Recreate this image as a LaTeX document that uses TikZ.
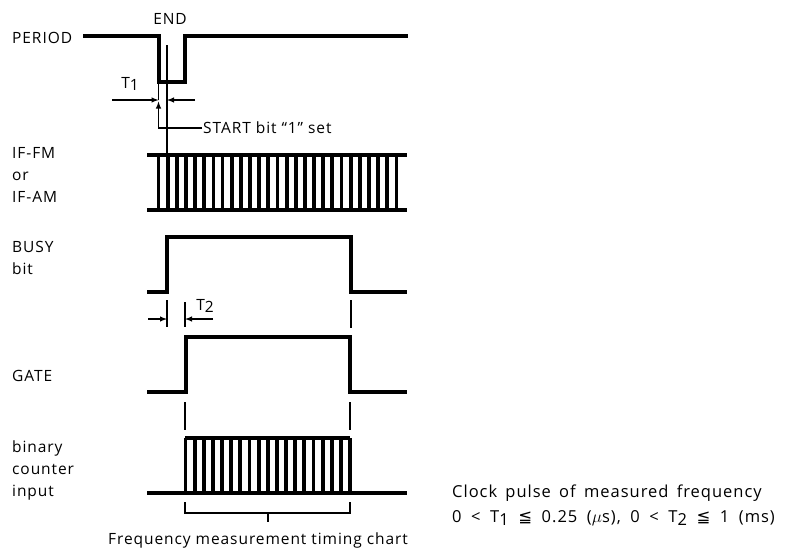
\documentclass[tikz,border=0pt]{standalone}
\usepackage{fontspec}
\setmainfont{Open Sans}[LetterSpace=6]
\newfontfamily\symfont{DejaVu Sans}
\newcommand{\lowsub}[1]{\raisebox{-0.35ex}{#1}}
\newcommand{\widespace}[1]{\spaceskip=#1em plus 0.1em\relax}

\begin{document}
\begin{tikzpicture}[x=1pt, y=-1pt, font=\fontsize{15.5}{22}\selectfont]
    \tikzstyle{signal} = [line width=3.6pt, line join=miter]
    \tikzstyle{bar} = [line width=3.8pt]
    \tikzstyle{guide} = [line width=1.4pt]
    \tikzstyle{dim} = [line width=1.4pt, -latex]
    \tikzstyle{label} = [anchor=west, inner sep=0pt, align=left]
    \tikzstyle{note} = [label, font=\fontsize{16.5}{22}\selectfont]
    \useasboundingbox (0,0) rectangle (795,552);

    % signal names
    \node[label] (period) at (12,38) {PERIOD};
    \node[label] (ifin) at (12,175) {IF-FM\\or\\IF-AM};
    \node[label] (busy) at (12,258) {BUSY\\bit};
    \node[label] (gate) at (12,376) {GATE};
    \node[label] (counter) at (12,470) {binary\\counter\\input};

    % PERIOD
    \draw[signal] (83,36) -| (159,82) -| (185,36) -- (408,36);
    \node (end) at (170,19) {END};

    % IF-FM / IF-AM
    \draw[signal] (147,155) -- (407,155);
    \draw[signal] (147,210) -- (407,210);
    \foreach \i in {0,...,26}
        \draw[bar] ({158.5+9.15*\i},155) -- ++(0,55);

    % start marker and T1
    \coordinate (t1a) at (158.5,100);
    \coordinate (t1b) at (167,100);
    \draw[guide] (167,45) -- (167,155);
    \draw[guide] (158.5,82) -- (t1a);
    \draw[dim] (112,100) -- (t1a);
    \draw[dim] (195,100) -- (t1b);
    \node (t1) at (130,84) {T\lowsub{1}};
    \node[label, inner sep=1pt] (start) at (202,128) {START bit “1” set};
    \draw[dim] (start.west) -| (158.5,101.5);

    % BUSY
    \draw[signal] (147,292) -| (167,237) -| (351,292) -- (407,292);

    % T2
    \coordinate (t2a) at (167,319);
    \coordinate (t2b) at (185,319);
    \draw[guide] (167,300) -- (167,327);
    \draw[guide] (185,302) -- (185,327);
    \draw[guide] (351,300) -- (351,328);
    \draw[dim] (148,319) -- (t2a);
    \draw[dim] (213,319) -- (t2b);
    \node (t2) at (205,306) {T\lowsub{2}};

    % GATE
    \draw[signal] (147,392) -| (186,337) -| (350,392) -- (407,392);
    \draw[guide] (185,402) -- (185,430);
    \draw[guide] (350,402) -- (350,430);

    % binary counter input
    \draw[signal] (147,493) -- (407,493);
    \draw[signal] (185,438) -- (350,438);
    \foreach \i in {0,...,18}
        \draw[bar] ({185.5+9.14*\i},438) -- ++(0,55);

    % measuring interval
    \coordinate (mid) at (268,513);
    \draw[guide] (185,502) |- (mid) -| (350,502);
    \draw[guide] (mid) -- ++(0,9);
    \node (caption) at (258,540) {Frequency measurement timing chart};

    % notes
    \node[note] (note1) at (452,493) {\widespace{0.5}Clock pulse of measured frequency};
    \node[note] (note2) at (452,518) {\widespace{0.58}0 < T\lowsub{1} {\symfont ≦} 0.25 ($\mu$s), 0 < T\lowsub{2} {\symfont ≦} 1 (ms)};
\end{tikzpicture}
\end{document}
